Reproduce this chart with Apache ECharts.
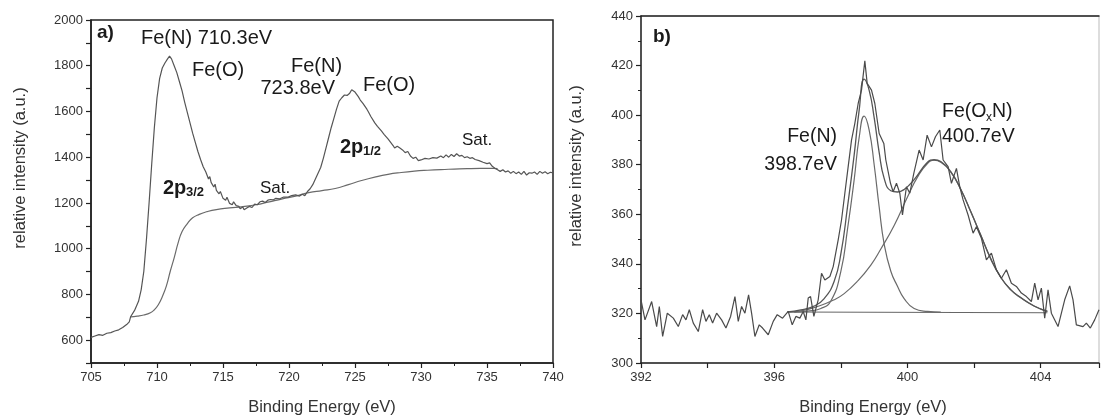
<!DOCTYPE html>
<html><head><meta charset="utf-8">
<script src="https://cdn.jsdelivr.net/npm/echarts@6/dist/echarts.min.js"></script>
<style>html,body{margin:0;padding:0;background:#fff}#c{width:1102px;height:419px}</style>
</head><body><div id="c"></div>
<script>
// ---------- Panel a) Fe 2p ----------
const leftE = [705.0,705.3,705.6,705.9,706.2,706.5,706.8,707.1,707.4,707.7,707.9,708.0,708.3,708.6,708.8,709.0,709.2,709.4,709.6,709.8,710.0,710.2,710.4,710.6,710.8,710.95,711.1,711.3,711.5,711.7,711.9,712.1,712.3,712.5,712.7,712.9,713.1,713.3,713.5,713.7,713.9,714.0,714.1,714.3,714.4,714.5,714.7,714.8,715.0,715.2,715.3,715.5,715.7,715.8,716.0,716.2,716.3,716.5,716.6,716.8,717.0,717.2,717.4,717.6,717.8,718.0,718.2,718.4,718.6,718.8,719.0,719.3,719.6,719.9,720.2,720.5,720.8,721.0,721.2,721.4,721.6,721.8,722.0,722.2,722.4,722.6,722.8,723.0,723.2,723.4,723.6,723.8,724.0,724.2,724.4,724.6,724.75,724.9,725.0,725.1,725.25,725.4,725.6,725.7,725.9,726.0,726.2,726.3,726.5,726.7,726.8,727.0,727.2,727.3,727.5,727.7,727.9,728.0,728.2,728.4,728.6,728.8,729.0,729.2,729.4,729.6,729.8,730.0,730.3,730.6,730.9,731.2,731.5,731.7,731.9,732.1,732.3,732.5,732.7,732.9,733.1,733.3,733.5,733.7,733.9,734.1,734.4,734.7,735.0,735.2,735.4,735.6,735.8,736.0,736.2,736.4,736.6,736.8,737.0,737.2,737.4,737.6,737.8,738.0,738.2,738.4,738.6,738.8,739.0,739.2,739.4,739.6,739.8,740.0];
const leftI = [612,618,624,621,630,633,640,645,655,668,680,702,730,770,820,900,1040,1200,1370,1530,1660,1745,1790,1812,1830,1842,1830,1800,1770,1730,1690,1640,1595,1550,1505,1465,1425,1390,1358,1335,1305,1315,1290,1270,1282,1255,1240,1250,1220,1212,1225,1198,1192,1205,1188,1185,1175,1182,1170,1178,1185,1180,1195,1192,1205,1208,1202,1212,1215,1213,1220,1218,1226,1225,1232,1235,1230,1238,1232,1250,1262,1280,1305,1330,1355,1395,1440,1485,1530,1570,1610,1645,1660,1672,1670,1680,1695,1702,1685,1690,1665,1650,1635,1640,1610,1600,1578,1585,1550,1535,1540,1515,1500,1508,1480,1465,1450,1440,1448,1440,1432,1420,1425,1405,1395,1400,1385,1388,1395,1392,1398,1396,1405,1398,1410,1400,1412,1403,1415,1405,1408,1398,1402,1395,1398,1390,1385,1378,1372,1375,1360,1352,1345,1338,1345,1335,1340,1330,1338,1328,1335,1325,1338,1322,1332,1330,1335,1325,1338,1330,1336,1328,1334,1332];
const bgE = [708.0,708.5,709.0,709.5,709.8,710.1,710.4,710.7,711.0,711.3,711.6,711.9,712.3,712.7,713.2,713.8,714.5,715.5,716.5,717.5,718.5,719.5,720.5,721.5,722.5,723.5,724.5,725.5,726.5,727.5,728.5,729.5,730.5,731.5,732.5,733.5,734.5,735.5,735.8];
const bgI = [702,705,710,720,733,755,790,835,900,960,1025,1075,1110,1135,1150,1162,1171,1178,1184,1192,1205,1218,1230,1245,1254,1263,1280,1298,1313,1325,1333,1339,1343,1346,1348,1350,1351,1351,1350];

// ---------- Panel b) N 1s ----------
const rawE = [392.00,392.12,392.32,392.47,392.55,392.65,392.79,392.97,393.12,393.25,393.35,393.45,393.57,393.72,393.85,393.95,394.05,394.15,394.27,394.42,394.55,394.69,394.82,394.92,395.02,395.12,395.23,395.32,395.42,395.55,395.65,395.82,395.97,396.09,396.25,396.42,396.54,396.65,396.77,396.87,396.95,397.02,397.09,397.19,397.32,397.42,397.52,397.67,397.77,397.92,398.02,398.12,398.22,398.32,398.42,398.52,398.62,398.72,398.79,398.92,399.02,399.15,399.29,399.35,399.49,399.57,399.67,399.77,399.85,399.97,400.07,400.19,400.35,400.47,400.59,400.72,400.84,400.97,401.07,401.22,401.32,401.47,401.57,401.67,401.82,401.97,402.07,402.22,402.37,402.52,402.67,402.82,402.97,403.12,403.27,403.42,403.57,403.72,403.82,403.92,404.02,404.12,404.22,404.32,404.52,404.72,404.87,404.97,405.07,405.27,405.37,405.49,405.62,405.75];
const rawI = [325.5,317.4,324.8,314.7,322.8,310.7,320.1,318.1,314.7,319.5,317.4,321.5,316.1,312.7,321.5,316.8,319.5,316.1,320.1,317.4,314.1,318.8,326.8,316.8,322.8,320.1,327.5,320.1,310.7,315.4,314.1,311.4,316.8,319.5,318.1,320.8,315.4,318.8,318.1,320.8,317.4,326.2,326.8,318.8,325.5,336.2,333.5,334.9,338.9,349.7,357.7,368.5,379.2,389.9,396.7,404.7,410.1,421.9,412.8,410.1,404.7,392.6,388.6,381.9,372.5,369.1,372.5,368.5,359.7,371.1,368.5,376.5,385.9,381.9,391.9,387.2,391.3,394.0,381.9,379.2,372.5,378.5,371.1,365.8,359.7,352.4,355.0,350.3,341.6,344.3,337.6,334.2,337.6,332.2,330.9,328.2,326.8,324.8,332.2,325.5,330.2,318.1,329.5,320.1,314.7,325.5,331.1,325.5,315.4,314.7,316.1,314.1,317.4,321.5];
const envE = [396.4,396.8,397.2,397.5,397.8,398.0,398.2,398.4,398.55,398.7,398.85,399.0,399.15,399.3,399.5,399.7,399.9,400.2,400.6,400.8,401.0,401.3,401.6,401.9,402.2,402.5,402.8,403.1,403.4,403.8,404.2];
const envI = [320.6,321.4,323,326,333,344,363,384,402,414.5,410,399,385,374.5,369.5,369,370,374,381,382,381.3,377.2,370.1,361.1,351.6,342.1,334.6,329.6,326.4,323,320.8];
const fenE = [396.6,397.0,397.4,397.7,398.0,398.2,398.4,398.55,398.7,398.85,399.0,399.15,399.3,399.5,399.7,399.9,400.2,400.6,401.0];
const fenI = [320.5,320.9,322,325,337,354,374,391,399.6,394,380,363,348,337,331,326,322,320.8,320.5];
const foxE = [396.4,396.8,397.3,397.8,398.1,398.5,398.9,399.2,399.6,400.0,400.3,400.6,400.8,401.0,401.3,401.6,401.9,402.2,402.5,402.8,403.1,403.4,403.8,404.2];
const foxI = [320.5,321,322.8,325.5,328,333,339.5,346,355.5,367,375,380.5,381.8,381,377,370,361,351.5,342,334.5,329.5,326.3,323,320.8];
const baseE = [396.4,404.2];
const baseI = [320.6,320.3];

function pairs(xs, ys) { return xs.map((x, i) => [x, ys[i]]); }

const FONT = 'Liberation Sans, Arial, sans-serif';
const AX = '#222';
const tickLbl = { color: '#333', fontSize: 13, fontFamily: FONT, margin: 8 };

function axisCommon() {
  return {
    axisLine: { show: true, onZero: false, lineStyle: { color: AX, width: 1.5 } },
    axisTick: { show: true, inside: false, length: 5, lineStyle: { color: AX, width: 1.2 } },
    minorTick: { show: true, splitNumber: 2, length: 3, lineStyle: { color: AX, width: 1 } },
    splitLine: { show: false },
    minorSplitLine: { show: false }
  };
}

function txt(x, y, text, size, opts) {
  opts = opts || {};
  return {
    type: 'text', x: x, y: y, rotation: opts.rot || 0, silent: true,
    style: {
      text: text, fill: opts.color || '#1a1a1a',
      font: (opts.bold ? 'bold ' : '') + size + 'px ' + FONT,
      fontSize: size, fontWeight: opts.bold ? 'bold' : 'normal', fontFamily: FONT,
      textAlign: opts.align || 'left', align: opts.align || 'left',
      textVerticalAlign: 'middle', verticalAlign: 'middle'
    }
  };
}

const lineSer = (name, xi, data, color, width, smooth) => ({
  name: name, type: 'line', xAxisIndex: xi, yAxisIndex: xi, data: data,
  showSymbol: false, symbol: 'none', smooth: smooth, animation: false,
  lineStyle: { color: color, width: width }
});

const option = {
  backgroundColor: '#fff',
  animation: false,
  grid: [
    { left: 91, top: 20, width: 462, height: 343, show: true, borderColor: AX, borderWidth: 1.5, backgroundColor: 'transparent' },
    { left: 641, top: 16, width: 458, height: 347, show: true, borderColor: '#bbb', borderWidth: 1, backgroundColor: 'transparent' }
  ],
  xAxis: [
    Object.assign(axisCommon(), {
      type: 'value', gridIndex: 0, min: 705, max: 740, interval: 5,
      axisLabel: Object.assign({}, tickLbl)
    }),
    Object.assign(axisCommon(), {
      type: 'value', gridIndex: 1, min: 392, max: 405.75, interval: 2,
      minorTick: { show: false },
      axisLabel: Object.assign({}, tickLbl, { formatter: v => (Math.abs(v % 4) < 1e-6 ? String(v) : '') })
    }),
    {
      type: 'value', gridIndex: 1, position: 'top', min: 392, max: 405.75,
      axisLine: { show: true, onZero: false, lineStyle: { color: AX, width: 1.5 } },
      axisTick: { show: false }, axisLabel: { show: false }, splitLine: { show: false }
    }
  ],
  yAxis: [
    Object.assign(axisCommon(), {
      type: 'value', gridIndex: 0, min: 500, max: 2000, interval: 100,
      minorTick: { show: false },
      axisLabel: Object.assign({}, tickLbl, { formatter: v => (v % 200 === 0 ? String(v) : '') })
    }),
    Object.assign(axisCommon(), {
      type: 'value', gridIndex: 1, min: 300, max: 440, interval: 20,
      axisLabel: Object.assign({}, tickLbl)
    })
  ],
  series: [
    lineSer('a-bg', 0, pairs(bgE, bgI), '#6a6a6a', 1.2, true),
    lineSer('a-raw', 0, pairs(leftE, leftI), '#555', 1.2, false),
    lineSer('b-base', 1, pairs(baseE, baseI), '#666', 1.1, false),
    lineSer('b-fox', 1, pairs(foxE, foxI), '#6a6a6a', 1.2, true),
    lineSer('b-fen', 1, pairs(fenE, fenI), '#6a6a6a', 1.2, true),
    lineSer('b-env', 1, pairs(envE, envI), '#555', 1.3, true),
    lineSer('b-raw', 1, pairs(rawE, rawI), '#4a4a4a', 1.2, false)
  ],
  graphic: [
    // axis names
    txt(20, 168, 'relative intensity (a.u.)', 16.5, { rot: Math.PI / 2, align: 'center', color: '#333' }),
    txt(322, 407, 'Binding Energy (eV)', 16.5, { align: 'center', color: '#333' }),
    txt(576, 166, 'relative intensity (a.u.)', 16.5, { rot: Math.PI / 2, align: 'center', color: '#333' }),
    txt(873, 407, 'Binding Energy (eV)', 16.5, { align: 'center', color: '#333' }),
    // panel a annotations
    txt(97, 33, 'a)', 19, { bold: true }),
    txt(141, 38, 'Fe(N) 710.3eV', 20),
    txt(192, 70, 'Fe(O)', 20),
    txt(291, 66, 'Fe(N)', 20),
    txt(335, 88, '723.8eV', 20, { align: 'right' }),
    txt(363, 85, 'Fe(O)', 20),
    txt(163, 188, '2p', 20, { bold: true }),
    txt(186, 192, '3/2', 13, { bold: true }),
    txt(260, 188, 'Sat.', 17),
    txt(340, 147, '2p', 20, { bold: true }),
    txt(363, 151, '1/2', 13, { bold: true }),
    txt(462, 140, 'Sat.', 17),
    // panel b annotations
    txt(653, 37, 'b)', 19, { bold: true }),
    txt(837, 137, 'Fe(N)', 19.5, { align: 'right' }),
    txt(837, 165, '398.7eV', 19.5, { align: 'right' }),
    txt(942, 112, 'Fe(O', 19.5),
    txt(986, 118, 'x', 12),
    txt(992, 112, 'N)', 19.5),
    txt(942, 137, '400.7eV', 19.5)
  ]
};

const chart = echarts.init(document.getElementById('c'), null, { renderer: 'canvas' });
chart.setOption(option);
</script>
</body></html>
